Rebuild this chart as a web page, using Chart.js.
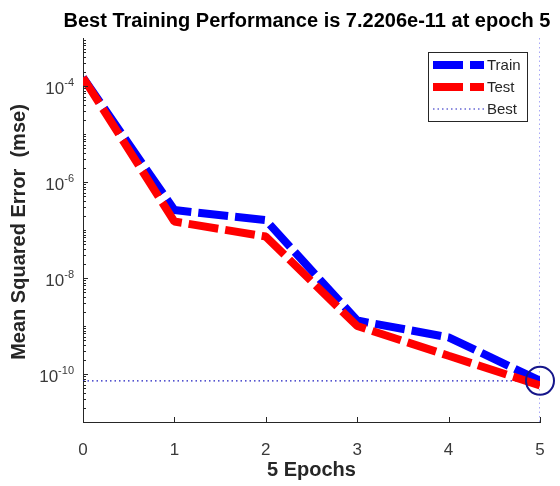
<!DOCTYPE html>
<html>
<head>
<meta charset="utf-8">
<title>Best Training Performance</title>
<script src="https://cdn.jsdelivr.net/npm/chart.js@4.4.1/dist/chart.umd.min.js"></script>
<style>
  html, body { margin: 0; padding: 0; background: #fff; }
</style>
</head>
<body>
<canvas id="perfChart" width="560" height="486"></canvas>
<script>
// mse per epoch
const epochs = [0, 1, 2, 3, 4, 5];
const trainPerf = [1.5e-4, 2.6e-7, 1.6e-7, 1.3e-9, 5.8e-10, 7.2206e-11];
const testPerf = [1.5e-4, 1.5e-7, 7.3e-8, 1.0e-9, 2.4e-10, 5.8e-11];

const bestEpoch = 5;
const bestPerf = 7.2206e-11;

const xTicks = [0, 1, 2, 3, 4, 5];
const yTickExponents = [-4, -6, -8, -10];
const yMin = 1e-11;
const yMax = 1e-3;

const titleText = 'Best Training Performance is 7.2206e-11 at epoch 5';
const xTitle = '5 Epochs';
const yTitle = 'Mean Squared Error  (mse)';
const legendLabels = ['Train', 'Test', 'Best'];

const axisColor = '#262626';
const fontFamily = '"Liberation Sans", Arial, Helvetica, sans-serif';

const toPoints = (ys) => epochs.map((e, i) => ({ x: e, y: ys[i] }));

// ticks, labels, titles and legend in the MATLAB look
const decor = {
  id: 'decor',
  afterDraw(chart) {
    const { ctx, chartArea: a, scales: { x, y } } = chart;
    ctx.save();

    // tick marks point inwards
    ctx.strokeStyle = axisColor;
    ctx.lineWidth = 1;
    ctx.beginPath();
    xTicks.forEach((v) => {
      const px = Math.round(x.getPixelForValue(v)) + 0.5;
      ctx.moveTo(px, a.bottom);
      ctx.lineTo(px, a.bottom - 5);
    });
    for (let e = -11; e < -3; e++) {
      for (let m = 1; m < 10; m++) {
        const py = Math.round(y.getPixelForValue(m * Math.pow(10, e))) + 0.5;
        const major = m === 1 && yTickExponents.includes(e);
        ctx.moveTo(a.left, py);
        ctx.lineTo(a.left + (major ? 5 : 3), py);
      }
    }
    ctx.stroke();

    // tick labels
    ctx.fillStyle = '#3a3a3a';
    ctx.textBaseline = 'middle';
    ctx.textAlign = 'center';
    ctx.font = '17px ' + fontFamily;
    xTicks.forEach((v) => {
      ctx.fillText(String(v), x.getPixelForValue(v), 450);
    });

    yTickExponents.forEach((e) => {
      const py = y.getPixelForValue(Math.pow(10, e));
      const sup = String(e);
      ctx.font = '11px ' + fontFamily;
      const supW = ctx.measureText(sup).width;
      ctx.textAlign = 'right';
      const right = a.left - 9;
      ctx.fillText(sup, right, py - 3);
      ctx.font = '17px ' + fontFamily;
      ctx.fillText('10', right - supW, py + 3.5);
    });

    // title and axis titles
    ctx.fillStyle = '#000';
    ctx.textAlign = 'center';
    ctx.font = 'bold 20px ' + fontFamily;
    ctx.fillText(titleText, 307, 21);

    ctx.fillStyle = axisColor;
    ctx.fillText(xTitle, (a.left + a.right) / 2, 470);

    ctx.save();
    ctx.translate(19, 232);
    ctx.rotate(-Math.PI / 2);
    ctx.fillText(yTitle, 0, 0);
    ctx.restore();

    // legend
    const lx = 428, ly = 52, lw = 99, lh = 69;
    ctx.fillStyle = '#fff';
    ctx.fillRect(lx, ly, lw, lh);
    ctx.strokeStyle = axisColor;
    ctx.lineWidth = 1;
    ctx.strokeRect(lx + 0.5, ly + 0.5, lw, lh);

    const rows = [65, 87, 109];
    chart.data.datasets.slice(0, 3).forEach((ds, i) => {
      ctx.save();
      ctx.strokeStyle = ds.borderColor;
      ctx.lineWidth = ds.borderWidth;
      ctx.setLineDash(ds.borderDash);
      ctx.lineCap = 'butt';
      ctx.beginPath();
      ctx.moveTo(433, rows[i]);
      ctx.lineTo(484, rows[i]);
      ctx.stroke();
      ctx.restore();

      ctx.fillStyle = axisColor;
      ctx.textAlign = 'left';
      ctx.font = '15px ' + fontFamily;
      ctx.fillText(legendLabels[i], 487, rows[i] + 1);
    });

    ctx.restore();
  }
};

new Chart(document.getElementById('perfChart'), {
  type: 'line',
  data: {
    datasets: [
      {
        label: 'Train',
        data: toPoints(trainPerf),
        borderColor: '#0000ff',
        borderWidth: 8,
        borderDash: [30, 7],
        borderCapStyle: 'butt',
        borderJoinStyle: 'bevel',
        pointRadius: 0,
        order: 3
      },
      {
        label: 'Test',
        data: toPoints(testPerf),
        borderColor: '#ff0000',
        borderWidth: 8,
        borderDash: [30, 7],
        borderCapStyle: 'butt',
        borderJoinStyle: 'bevel',
        pointRadius: 0,
        order: 2
      },
      {
        label: 'Best',
        data: [{ x: 0, y: bestPerf }, { x: bestEpoch, y: bestPerf }],
        borderColor: '#1c1cc0',
        borderWidth: 1.2,
        borderDash: [1.5, 3],
        pointRadius: 0,
        order: 5
      },
      {
        label: 'bestEpoch',
        data: [{ x: bestEpoch, y: yMin }, { x: bestEpoch, y: yMax }],
        borderColor: '#6f6ff0',
        borderWidth: 1.2,
        borderDash: [1.5, 3],
        pointRadius: 0,
        order: 4
      },
      {
        label: 'bestPoint',
        data: [{ x: bestEpoch, y: bestPerf }],
        showLine: false,
        pointRadius: 14,
        pointBorderWidth: 2,
        pointBorderColor: '#15158a',
        pointBackgroundColor: 'rgba(0,0,0,0)',
        clip: false,
        order: 1
      }
    ]
  },
  options: {
    responsive: false,
    animation: false,
    events: [],
    layout: { padding: { top: 38, right: 20, left: 0, bottom: 0 } },
    plugins: {
      legend: { display: false },
      tooltip: { enabled: false }
    },
    scales: {
      x: {
        type: 'linear',
        min: 0,
        max: 5,
        grid: { display: false },
        border: { display: true, color: axisColor, width: 1 },
        ticks: { display: false },
        afterFit(scale) { scale.height = 64; }
      },
      y: {
        type: 'logarithmic',
        min: yMin,
        max: yMax,
        grid: { display: false },
        border: { display: true, color: axisColor, width: 1 },
        ticks: { display: false },
        afterFit(scale) { scale.width = 83; }
      }
    }
  },
  plugins: [decor]
});
</script>
</body>
</html>
